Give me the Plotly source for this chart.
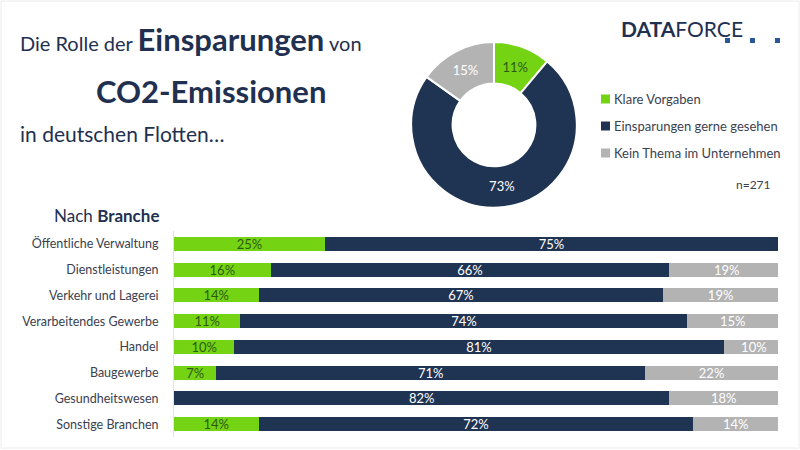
import plotly.graph_objects as go

# ---------------- data ----------------
branchen = ["Öffentliche Verwaltung", "Dienstleistungen", "Verkehr und Lagerei",
            "Verarbeitendes Gewerbe", "Handel", "Baugewerbe", "Gesundheitswesen",
            "Sonstige Branchen"]
klare_vorgaben = [25, 16, 14, 11, 10, 7, None, 14]
gerne_gesehen = [75, 66, 67, 74, 81, 71, 82, 72]
kein_thema = [None, 19, 19, 15, 10, 22, 18, 14]

series_names = ["Klare Vorgaben", "Einsparungen gerne gesehen", "Kein Thema im Unternehmen"]
gesamt_werte = [11, 73, 15]
n_text = "n=271"

GREEN = "#74d414"
NAVY = "#1f3352"
GRAY = "#b3b3b3"
DARKGREEN = "#2c5a14"
TEXT = "#3b4150"
TITLE = "#1f3050"
FONT = "Lato, 'Open Sans', sans-serif"
colors = [GREEN, NAVY, GRAY]
text_colors = [DARKGREEN, "white", "white"]

fig = go.Figure()

for vals, name, col, tcol in zip([klare_vorgaben, gerne_gesehen, kein_thema],
                                 series_names, colors, text_colors):
    fig.add_trace(go.Bar(
        y=branchen, x=vals, orientation="h", name=name,
        marker=dict(color=col, line=dict(width=0)),
        text=[f"{v}%" if v is not None else "" for v in vals],
        textposition="inside", insidetextanchor="middle",
        textfont=dict(color=tcol, size=13, family=FONT),
        constraintext="none", showlegend=False, hoverinfo="skip",
    ))

fig.add_trace(go.Pie(
    values=gesamt_werte, labels=series_names, sort=False, direction="clockwise",
    rotation=0, hole=0.5,
    marker=dict(colors=colors, line=dict(color="white", width=2)),
    texttemplate="%{value}%", textposition="inside",
    insidetextorientation="horizontal",
    textfont=dict(color=text_colors, size=13, family=FONT),
    domain=dict(x=[0.514, 0.721], y=[0.538, 0.907]),
    showlegend=False, hoverinfo="skip",
))

annotations = [
    dict(x=18, y=60, xanchor="left", yanchor="bottom",
         text="Die Rolle der <b><span style='font-size:31px'>Einsparungen</span></b> von",
         font=dict(size=20, color=TITLE, family=FONT), showarrow=False),
    dict(x=211, y=112, xanchor="center", yanchor="bottom",
         text="<b>CO2-Emissionen</b>",
         font=dict(size=31, color=TITLE, family=FONT), showarrow=False),
    dict(x=18, y=148, xanchor="left", yanchor="bottom",
         text="in deutschen Flotten…",
         font=dict(size=21, color=TITLE, family=FONT), showarrow=False),
    dict(x=52, y=215, xanchor="left", yanchor="middle",
         text="Nach <b>Branche</b>",
         font=dict(size=17, color=TITLE, family=FONT), showarrow=False),
    dict(x=619, y=29, xanchor="left", yanchor="middle",
         text="<b>DATA</b>FORCE",
         font=dict(size=21, color=TITLE, family=FONT), showarrow=False),
    dict(x=773, y=184, xanchor="right", yanchor="middle", text=n_text,
         font=dict(size=12, color=TEXT, family=FONT), showarrow=False),
]
shapes = []
legend_y = [99, 126, 153]
for name, col, ly in zip(series_names, colors, legend_y):
    annotations.append(dict(x=612, y=ly, xanchor="left", yanchor="middle", text=name,
                            font=dict(size=13, color=TEXT, family=FONT), showarrow=False))
    shapes.append(dict(type="rect", x0=601, x1=610, y0=ly - 4.5, y1=ly + 4.5,
                       fillcolor=col, line=dict(width=0)))
for sx in [725, 750, 775]:
    shapes.append(dict(type="rect", x0=sx, x1=sx + 5, y0=38, y1=43,
                       fillcolor="#2b5797", line=dict(width=0)))
shapes.append(dict(type="rect", x0=1, x1=799, y0=1, y1=448,
                   line=dict(color="#ececec", width=1)))

# convert pixel coords to paper coords
W, H = 800, 450
for a in annotations:
    a["xref"] = "paper"; a["yref"] = "paper"
    a["x"] = a["x"] / W
    a["y"] = 1 - a["y"] / H
for s in shapes:
    s["xref"] = "paper"; s["yref"] = "paper"
    s["x0"] = s["x0"] / W; s["x1"] = s["x1"] / W
    y0, y1 = s["y0"], s["y1"]
    s["y0"] = 1 - y1 / H; s["y1"] = 1 - y0 / H

fig.update_layout(
    width=W, height=H, margin=dict(l=0, r=0, t=0, b=0),
    paper_bgcolor="white", plot_bgcolor="white",
    barmode="stack", bargap=0.45,
    font=dict(family=FONT, color=TEXT),
    xaxis=dict(domain=[174 / W, 778 / W], range=[0, 100], visible=False, fixedrange=True),
    yaxis=dict(domain=[1 - 437 / H, 1 - 231 / H], autorange="reversed",
               showline=True, linecolor="#e3e3e3", linewidth=1,
               ticks="", ticklabelstandoff=12, automargin=False,
               tickfont=dict(size=12.5, color=TEXT, family=FONT), showgrid=False),
    annotations=annotations, shapes=shapes,
)

fig.write_html("out.html", config={"displayModeBar": False},
               post_script="document.body.style.margin='0';")
